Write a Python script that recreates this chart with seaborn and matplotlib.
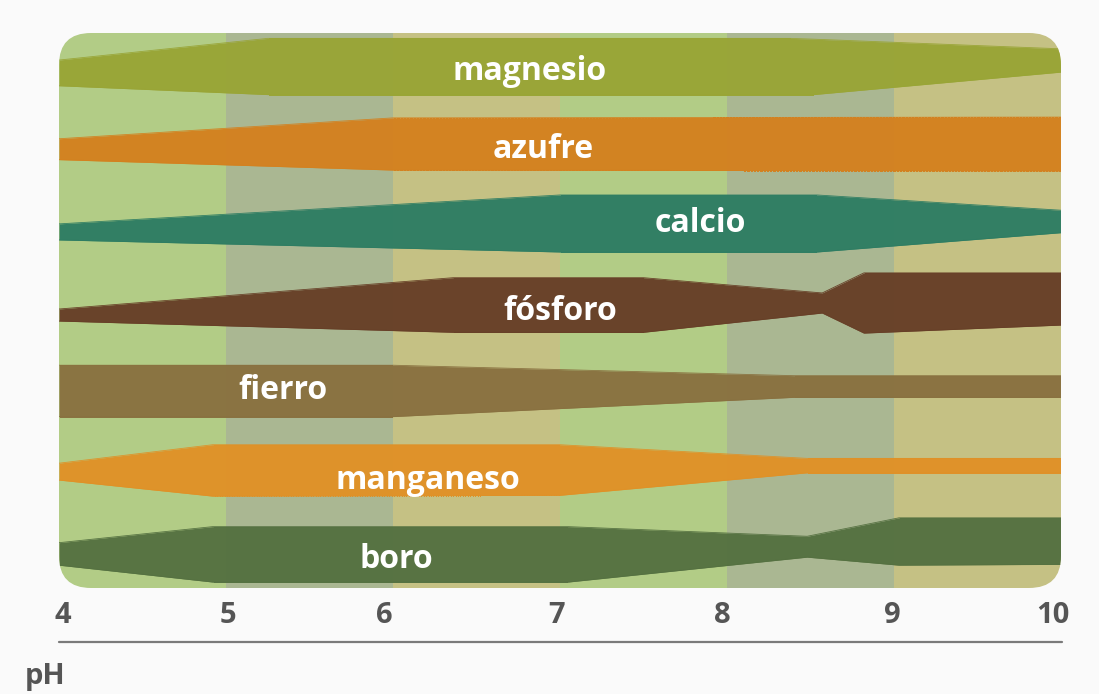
import numpy as np
import matplotlib
matplotlib.use("Agg")
import matplotlib.pyplot as plt
import seaborn as sns
from matplotlib.patches import FancyBboxPatch
from matplotlib.transforms import IdentityTransform

# ---------------- data ----------------
nutrients = ["magnesio", "azufre", "calcio", "fósforo", "fierro", "manganeso", "boro"]

# pH breakpoints and band edges (offsets from the row centre, in 1/100 row)
ph_magnesio = [4, 5.25, 8.38, 8.52, 10]
top_magnesio = [-8, -35, -35, -34, -22]
bot_magnesio = [24, 35, 35, 35, 7]

ph_azufre = [4, 6, 10]
top_azufre = [-10, -36, -37]
bot_azufre = [16, 29, 30]

ph_calcio = [4, 7, 8.54, 10]
top_calcio = [-4, -40, -40, -21]
bot_calcio = [16, 31, 31, 7]

ph_fosforo = [4, 6.36, 7.5, 8.57, 8.82, 10]
top_fosforo = [2, -37, -37, -18, -43, -43]
bot_fosforo = [17, 31, 31, 7, 32, 22]

ph_fierro = [4, 6, 8.4, 10]
top_fierro = [-28, -28, -15, -15]
bot_fierro = [36, 36, 12, 12]

ph_manganeso = [4, 4.92, 7, 8.48, 10]
top_manganeso = [-6, -29, -29, -12, -12]
bot_manganeso = [15, 35, 34, 6, 6]

ph_boro = [4, 4.92, 7.05, 8.48, 9.03, 10]
top_boro = [-7, -27, -27, -15, -38, -38]
bot_boro = [21, 42, 42, 11, 21, 20]

ph_ticks = [4, 5, 6, 7, 8, 9, 10]
tick_labels = ["4", "5", "6", "7", "8", "9", "10"]
axis_label = "pH"

# ---------------- style ----------------
band_colors = ["#99a536", "#d4811f", "#2e7d63", "#673f27", "#897140", "#e09127", "#557141"]
bg_colors = ["#b2cc86", "#aab792", "#c5c184", "#b2cc86", "#aab792", "#c5c184"]
label_pos = [(6.82, 0.06), (6.90, 0.03), (7.84, -0.05), (7.00, 0.05),
             (5.34, 0.04), (6.21, 0.16), (6.02, 0.14)]
tick_shift = [0.02, 0.01, -0.05, -0.02, -0.03, -0.01, -0.05]  # label placement tweak

series = [
    (ph_magnesio, top_magnesio, bot_magnesio),
    (ph_azufre, top_azufre, bot_azufre),
    (ph_calcio, top_calcio, bot_calcio),
    (ph_fosforo, top_fosforo, bot_fosforo),
    (ph_fierro, top_fierro, bot_fierro),
    (ph_manganeso, top_manganeso, bot_manganeso),
    (ph_boro, top_boro, bot_boro),
]

sns.set_theme(style="white")
plt.rcParams["font.family"] = ["Open Sans", "DejaVu Sans"]

W, H = 1099, 694
fig = plt.figure(figsize=(W / 100, H / 100), dpi=100, facecolor="#fafafa")
x0, x1, y0, y1 = 59, 1061, 33, 588  # pixel box of the plot area
ax = fig.add_axes([x0 / W, (H - y1) / H, (x1 - x0) / W, (y1 - y0) / H])
ax.set_facecolor("none")
ax.set_xlim(4, 10)
ax.set_ylim(6.494, -0.417)
for s in ax.spines.values():
    s.set_visible(False)

clip = FancyBboxPatch((x0, H - y1), x1 - x0, y1 - y0,
                      boxstyle="round,pad=0,rounding_size=32",
                      transform=IdentityTransform(), facecolor="none", edgecolor="none")

artists = []
for i, c in enumerate(bg_colors):
    artists.append(ax.axvspan(4 + i, 5 + i, color=c, lw=0))

for i, (ph, top, bot) in enumerate(series):
    ph = np.array(ph, float)
    yt = i + np.array(top) / 100.0
    yb = i + np.array(bot) / 100.0
    artists.append(ax.fill_between(ph, yt, yb, color=band_colors[i], lw=0, alpha=0.97))
    n0 = len(ax.lines)
    sns.lineplot(x=ph, y=yt, ax=ax, color=band_colors[i], lw=0.6, alpha=0.97)
    sns.lineplot(x=ph, y=yb, ax=ax, color=band_colors[i], lw=0.6, alpha=0.97)
    artists.extend(ax.lines[n0:])
    lx, ly = label_pos[i]
    ax.text(lx, i + ly, nutrients[i], color="white", fontsize=23, fontweight="bold",
            ha="center", va="center")

for a in artists:
    a.set_clip_path(clip)

ax.set_yticks([])
ax.set_xticks([])
ax.grid(False)

xt = ax.get_xaxis_transform()
for p, lab, d in zip(ph_ticks, tick_labels, tick_shift):
    ax.text(p + d, -0.05, lab, transform=xt, fontsize=21, fontweight="bold",
            color="#555555", ha="center", va="center")

ax.plot([4, 10.005], [-0.097, -0.097], transform=xt, color="#7a7a7a", lw=1.6,
        clip_on=False)
ax.text(3.796, -0.16, axis_label, transform=xt, fontsize=21, fontweight="bold",
        color="#555555", ha="left", va="center")

fig.savefig("out.png", dpi=100, facecolor=fig.get_facecolor())
